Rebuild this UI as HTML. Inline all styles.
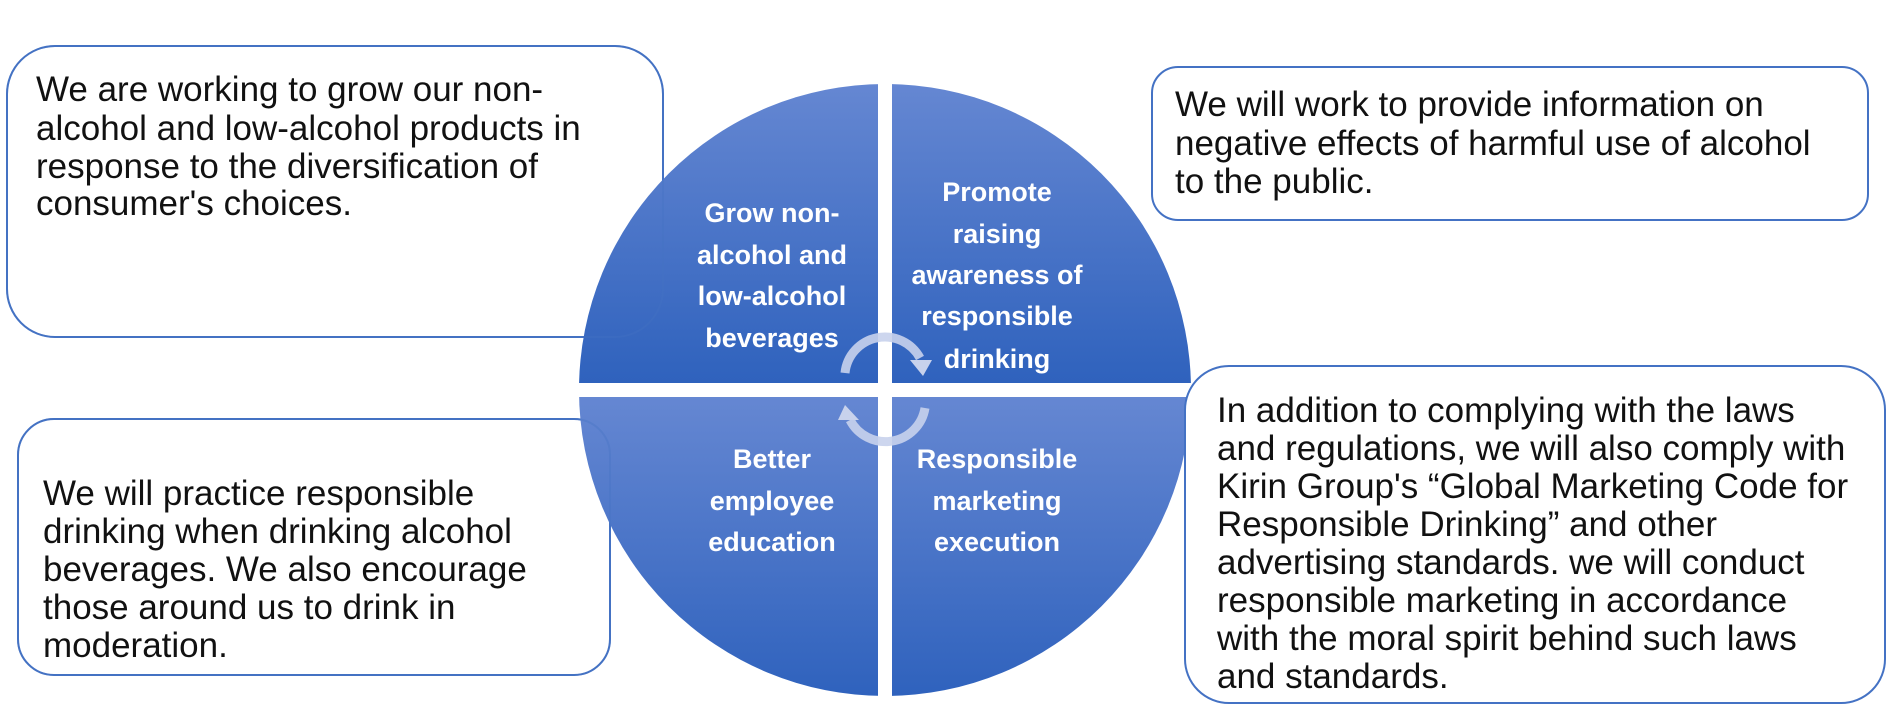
<!DOCTYPE html>
<html><head><meta charset="utf-8"><style>
html,body{margin:0;padding:0;background:#fff;}
svg{display:block;}
.t{font-family:"Liberation Sans","DejaVu Sans",sans-serif;font-size:35px;fill:#111;}
.q{font-family:"Liberation Sans","DejaVu Sans",sans-serif;font-size:27px;font-weight:bold;fill:#fff;text-anchor:middle;}
</style></head><body>
<svg width="1889" height="722" viewBox="0 0 1889 722" xmlns="http://www.w3.org/2000/svg">
<defs>
<linearGradient id="g1" x1="0" y1="0" x2="0" y2="1">
<stop offset="0" stop-color="#6587d2"/><stop offset="1" stop-color="#2f62bd"/></linearGradient>
<clipPath id="c"><circle cx="885" cy="390" r="306"/></clipPath>
</defs>
<rect x="7" y="46" width="656" height="291" rx="48" fill="#fff" stroke="#4472c4" stroke-width="2"/>
<rect x="18" y="419" width="592" height="256" rx="36" fill="#fff" stroke="#4472c4" stroke-width="2"/>
<g clip-path="url(#c)">
<rect x="579" y="84" width="299" height="299" fill="url(#g1)"/>
<rect x="892" y="84" width="299" height="299" fill="url(#g1)"/>
<rect x="579" y="397" width="299" height="299" fill="url(#g1)"/>
<rect x="892" y="397" width="299" height="299" fill="url(#g1)"/>
</g>
<rect x="7" y="46" width="656" height="291" rx="48" fill="none" stroke="#4472c4" stroke-opacity="0.35" stroke-width="2"/>
<rect x="18" y="419" width="592" height="256" rx="36" fill="none" stroke="#4472c4" stroke-opacity="0.35" stroke-width="2"/>
<rect x="1152" y="67" width="716" height="153" rx="26" fill="#fff" stroke="#4472c4" stroke-width="2"/>
<rect x="1185" y="366" width="700" height="337" rx="44" fill="#fff" stroke="#4472c4" stroke-width="2"/>
<path d="M845 373 A40 40 0 0 1 920 358" fill="none" stroke="#c8d2ec" stroke-opacity="0.9" stroke-width="9"/>
<polygon points="910,360 932,360 923,376" fill="#c8d2ec"/>
<path d="M925 408 A40 40 0 0 1 850 420" fill="none" stroke="#c8d2ec" stroke-opacity="0.9" stroke-width="9"/>
<polygon points="838,420 859,420 845,405" fill="#c8d2ec"/>
<text class="q" x="772" y="222">Grow non-</text>
<text class="q" x="772" y="264">alcohol and</text>
<text class="q" x="772" y="305">low-alcohol</text>
<text class="q" x="772" y="347">beverages</text>
<text class="q" x="997" y="201">Promote</text>
<text class="q" x="997" y="243">raising</text>
<text class="q" x="997" y="284">awareness of</text>
<text class="q" x="997" y="325">responsible</text>
<text class="q" x="997" y="368">drinking</text>
<text class="q" x="772" y="468">Better</text>
<text class="q" x="772" y="510">employee</text>
<text class="q" x="772" y="551">education</text>
<text class="q" x="997" y="468">Responsible</text>
<text class="q" x="997" y="510">marketing</text>
<text class="q" x="997" y="551">execution</text>
<text class="t" x="36" y="101">We are working to grow our non-</text>
<text class="t" x="36" y="140">alcohol and low-alcohol products in</text>
<text class="t" x="36" y="178">response to the diversification of</text>
<text class="t" x="36" y="215">consumer's choices.</text>
<text class="t" x="1175" y="116">We will work to provide information on</text>
<text class="t" x="1175" y="155">negative effects of harmful use of alcohol</text>
<text class="t" x="1175" y="193">to the public.</text>
<text class="t" x="43" y="505">We will practice responsible</text>
<text class="t" x="43" y="543">drinking when drinking alcohol</text>
<text class="t" x="43" y="581">beverages. We also encourage</text>
<text class="t" x="43" y="619">those around us to drink in</text>
<text class="t" x="43" y="657">moderation.</text>
<text class="t" x="1217" y="422">In addition to complying with the laws</text>
<text class="t" x="1217" y="460">and regulations, we will also comply with</text>
<text class="t" x="1217" y="498">Kirin Group's “Global Marketing Code for</text>
<text class="t" x="1217" y="536">Responsible Drinking” and other</text>
<text class="t" x="1217" y="574">advertising standards. we will conduct</text>
<text class="t" x="1217" y="612">responsible marketing in accordance</text>
<text class="t" x="1217" y="650">with the moral spirit behind such laws</text>
<text class="t" x="1217" y="688">and standards.</text>
</svg>
</body></html>
